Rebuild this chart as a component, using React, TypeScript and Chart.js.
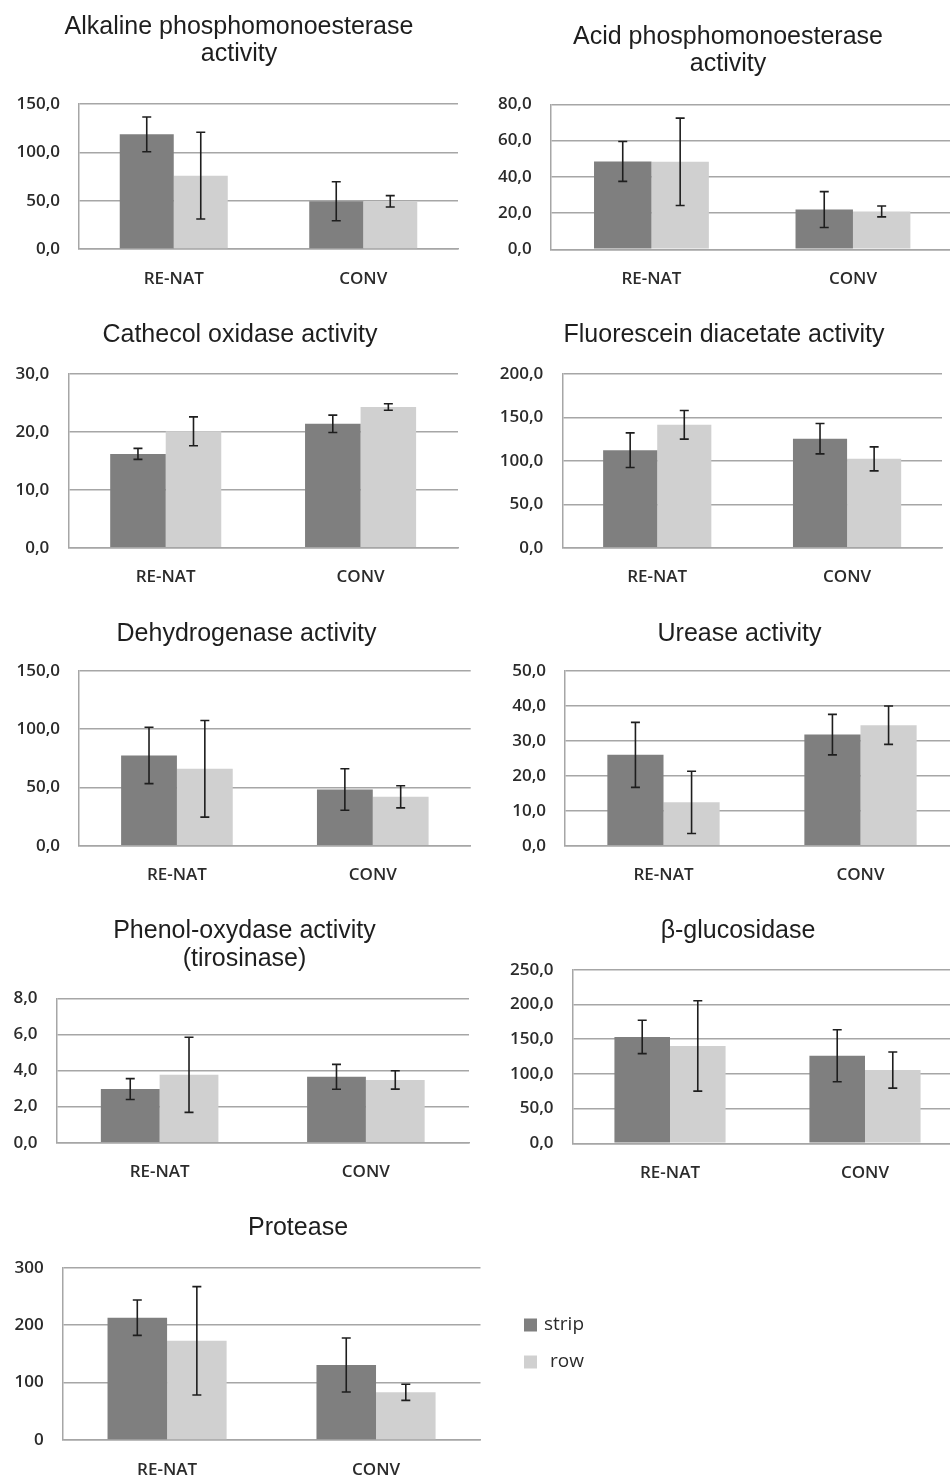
import React, { useEffect, useRef } from 'react';
import { Chart, registerables } from 'chart.js';

Chart.register(...registerables);

// Shared categories and series
const categories = ['RE-NAT', 'CONV'];
const seriesNames = ['strip', 'row'];
const seriesColors = ['#7f7f7f', '#d0d0d0'];

// Alkaline phosphomonoesterase
const alkalineTitle = ['Alkaline phosphomonoesterase', 'activity'];
const alkalineTicks = [0, 50, 100, 150];
const alkalineStrip = [118.6, 49.4];
const alkalineStripSd = [18.0, 20.2];
const alkalineRow = [75.9, 49.3];
const alkalineRowSd = [44.9, 5.9];

// Acid phosphomonoesterase
const acidTitle = ['Acid phosphomonoesterase', 'activity'];
const acidTicks = [0, 20, 40, 60, 80];
const acidStrip = [48.5, 21.9];
const acidStripSd = [11.0, 9.9];
const acidRow = [48.3, 20.9];
const acidRowSd = [24.1, 3.0];

// Cathecol oxidase
const cathecolTitle = ['Cathecol oxidase activity'];
const cathecolTicks = [0, 10, 20, 30];
const cathecolStrip = [16.2, 21.4];
const cathecolStripSd = [0.95, 1.5];
const cathecolRow = [20.1, 24.3];
const cathecolRowSd = [2.5, 0.55];

// Fluorescein diacetate
const fdaTitle = ['Fluorescein diacetate activity'];
const fdaTicks = [0, 50, 100, 150, 200];
const fdaStrip = [112.3, 125.5];
const fdaStripSd = [19.9, 17.5];
const fdaRow = [141.5, 102.3];
const fdaRowSd = [16.5, 13.8];

// Dehydrogenase
const dehydrogenaseTitle = ['Dehydrogenase activity'];
const dehydrogenaseTicks = [0, 50, 100, 150];
const dehydrogenaseStrip = [77.5, 48.3];
const dehydrogenaseStripSd = [24.2, 17.8];
const dehydrogenaseRow = [66.0, 42.0];
const dehydrogenaseRowSd = [41.5, 9.5];

// Urease
const ureaseTitle = ['Urease activity'];
const ureaseTicks = [0, 10, 20, 30, 40, 50];
const ureaseStrip = [26.0, 31.8];
const ureaseStripSd = [9.3, 5.8];
const ureaseRow = [12.4, 34.5];
const ureaseRowSd = [8.9, 5.5];

// Phenol-oxydase (tirosinase)
const phenolTitle = ['Phenol-oxydase activity', '(tirosinase)'];
const phenolTicks = [0, 2, 4, 6, 8];
const phenolStrip = [2.97, 3.65];
const phenolStripSd = [0.58, 0.69];
const phenolRow = [3.76, 3.48];
const phenolRowSd = [2.08, 0.51];

// β-glucosidase
const glucosidaseTitle = ['β-glucosidase'];
const glucosidaseTicks = [0, 50, 100, 150, 200, 250];
const glucosidaseStrip = [153.2, 126.1];
const glucosidaseStripSd = [24.0, 37.4];
const glucosidaseRow = [140.2, 105.5];
const glucosidaseRowSd = [65.0, 26.0];

// Protease
const proteaseTitle = ['Protease'];
const proteaseTicks = [0, 100, 200, 300];
const proteaseStrip = [213.0, 130.7];
const proteaseStripSd = [30.8, 47.0];
const proteaseRow = [172.7, 83.0];
const proteaseRowSd = [94.3, 14.0];

// Styling
const TITLE_FONT = "'Liberation Sans', Arial, sans-serif";
const TITLE_SIZE = 25;
const TITLE_LINE = 1.1;
const LABEL_FONT = "'Open Sans', sans-serif";
const LABEL_SIZE = 17;
const GRID_COLOR = '#a6a6a6';
const TEXT_COLOR = '#2b2b2b';
const LEGEND_GAP = 25.5;
const LEGEND_WIDTH = 78;

type Frame = {
  x: number;
  y: number;
  w: number;
  h: number;
  plot: [number, number, number, number];
  titleY: number;
};

type PanelProps = {
  title: string[];
  ticks: number[];
  decimals: number;
  strip: number[];
  stripSd: number[];
  row: number[];
  rowSd: number[];
  frame: Frame;
  legend?: boolean;
};

function makeErrorBars(errors: number[][]) {
  return {
    id: 'errorBars',
    afterDatasetsDraw(chart: any) {
      const { ctx } = chart;
      const yScale = chart.scales.y;
      ctx.save();
      ctx.strokeStyle = '#1e1e1e';
      ctx.lineWidth = 1.6;
      chart.data.datasets.forEach((ds: any, i: number) => {
        const meta = chart.getDatasetMeta(i);
        meta.data.forEach((bar: any, j: number) => {
          const v = ds.data[j];
          const e = errors[i][j];
          const x = bar.x;
          const yHi = yScale.getPixelForValue(v + e);
          const yLo = yScale.getPixelForValue(v - e);
          const cap = 4.5;
          ctx.beginPath();
          ctx.moveTo(x, yHi);
          ctx.lineTo(x, yLo);
          ctx.moveTo(x - cap, yHi);
          ctx.lineTo(x + cap, yHi);
          ctx.moveTo(x - cap, yLo);
          ctx.lineTo(x + cap, yLo);
          ctx.stroke();
        });
      });
      ctx.restore();
    },
  };
}

// invisible right-hand axis used only to reserve horizontal space
function spacerAxis(width: number, weight: number) {
  return {
    type: 'linear',
    position: 'right',
    display: true,
    weight,
    grid: { display: false, drawTicks: false },
    border: { display: false },
    ticks: { display: false },
    afterFit: (s: any) => {
      s.width = width;
    },
  };
}

function Panel({ title, ticks, decimals, strip, stripSd, row, rowSd, frame, legend }: PanelProps) {
  const ref = useRef<HTMLCanvasElement>(null);

  useEffect(() => {
    const canvas = ref.current;
    if (!canvas) return;
    const [pl, pt, pr, pb] = frame.plot;
    const lh = TITLE_SIZE * TITLE_LINE;
    const titleTop = frame.titleY - frame.y - lh / 2;
    const titleBottom = pt - frame.y - titleTop - title.length * lh;
    const rightSpace = frame.x + frame.w - pr;

    const scales: any = {
      x: {
        grid: { display: false, drawTicks: false },
        border: { display: true, color: GRID_COLOR, width: 1.5 },
        ticks: {
          padding: 19.5,
          color: TEXT_COLOR,
          font: { family: LABEL_FONT, size: LABEL_SIZE, weight: '600' },
        },
        afterFit: (s: any) => {
          s.height = frame.y + frame.h - pb;
        },
      },
      y: {
        min: ticks[0],
        max: ticks[ticks.length - 1],
        afterBuildTicks: (s: any) => {
          s.ticks = ticks.map((value) => ({ value }));
        },
        grid: { color: GRID_COLOR, lineWidth: 1.5, drawTicks: false },
        border: { display: true, color: GRID_COLOR, width: 1.5 },
        ticks: {
          padding: 19,
          color: TEXT_COLOR,
          font: { family: LABEL_FONT, size: LABEL_SIZE, weight: '600' },
          callback: (v: any) => Number(v).toFixed(decimals).replace('.', ','),
        },
        afterFit: (s: any) => {
          s.width = pl - frame.x;
        },
      },
    };
    if (legend) {
      scales.gapInner = spacerAxis(LEGEND_GAP, 0);
      scales.gapOuter = spacerAxis(rightSpace - LEGEND_GAP - LEGEND_WIDTH, 2000);
    } else {
      scales.gapInner = spacerAxis(rightSpace, 0);
    }

    const chart = new Chart(canvas, {
      type: 'bar',
      data: {
        labels: categories,
        datasets: [
          {
            label: seriesNames[0],
            data: strip,
            backgroundColor: seriesColors[0],
            borderWidth: 0,
            categoryPercentage: 0.57,
            barPercentage: 1,
          },
          {
            label: seriesNames[1],
            data: row,
            backgroundColor: seriesColors[1],
            borderWidth: 0,
            categoryPercentage: 0.57,
            barPercentage: 1,
          },
        ],
      },
      options: {
        responsive: false,
        animation: false,
        devicePixelRatio: 1,
        layout: { padding: 0 },
        scales,
        plugins: {
          tooltip: { enabled: false },
          title: {
            display: true,
            text: title,
            color: '#1e1e1e',
            font: { family: TITLE_FONT, size: TITLE_SIZE, weight: 'normal', lineHeight: TITLE_LINE },
            padding: { top: titleTop, bottom: titleBottom },
          },
          legend: legend
            ? {
                display: true,
                position: 'right',
                maxWidth: LEGEND_WIDTH,
                labels: {
                  boxWidth: 13,
                  boxHeight: 13,
                  padding: 18,
                  textAlign: 'right',
                  color: TEXT_COLOR,
                  font: { family: LABEL_FONT, size: 19, weight: '500' },
                },
              }
            : { display: false },
        },
      } as any,
      plugins: [makeErrorBars([stripSd, rowSd])],
    });
    return () => chart.destroy();
  }, []);

  return (
    <canvas
      ref={ref}
      width={Math.round(frame.w)}
      height={Math.round(frame.h)}
      style={{ position: 'absolute', left: frame.x, top: frame.y, display: 'block' }}
    />
  );
}

export default function App() {
  return (
    <div
      style={{
        position: 'absolute',
        left: 0,
        top: 0,
        width: 950,
        height: 1477,
        overflow: 'hidden',
        background: '#ffffff',
      }}
    >
      <Panel
        title={alkalineTitle}
        ticks={alkalineTicks}
        decimals={1}
        strip={alkalineStrip}
        stripSd={alkalineStripSd}
        row={alkalineRow}
        rowSd={alkalineRowSd}
        frame={{ x: 0, y: 0, w: 478, h: 300, plot: [79, 104, 458, 249], titleY: 27 }}
      />
      <Panel
        title={acidTitle}
        ticks={acidTicks}
        decimals={1}
        strip={acidStrip}
        stripSd={acidStripSd}
        row={acidRow}
        rowSd={acidRowSd}
        frame={{ x: 482, y: 0, w: 492, h: 300, plot: [550.7, 104.3, 953.7, 249.3], titleY: 37 }}
      />
      <Panel
        title={cathecolTitle}
        ticks={cathecolTicks}
        decimals={1}
        strip={cathecolStrip}
        stripSd={cathecolStripSd}
        row={cathecolRow}
        rowSd={cathecolRowSd}
        frame={{ x: 0, y: 300, w: 480, h: 300, plot: [68.3, 374, 458, 547.7], titleY: 335.3 }}
      />
      <Panel
        title={fdaTitle}
        ticks={fdaTicks}
        decimals={1}
        strip={fdaStrip}
        stripSd={fdaStripSd}
        row={fdaRow}
        rowSd={fdaRowSd}
        frame={{ x: 482, y: 300, w: 484, h: 300, plot: [562.3, 374, 942, 547.7], titleY: 335.3 }}
      />
      <Panel
        title={dehydrogenaseTitle}
        ticks={dehydrogenaseTicks}
        decimals={1}
        strip={dehydrogenaseStrip}
        stripSd={dehydrogenaseStripSd}
        row={dehydrogenaseRow}
        rowSd={dehydrogenaseRowSd}
        frame={{ x: 0, y: 600, w: 493, h: 300, plot: [79, 671, 470.7, 845.7], titleY: 633.7 }}
      />
      <Panel
        title={ureaseTitle}
        ticks={ureaseTicks}
        decimals={1}
        strip={ureaseStrip}
        stripSd={ureaseStripSd}
        row={ureaseRow}
        rowSd={ureaseRowSd}
        frame={{ x: 485, y: 600, w: 509, h: 300, plot: [565, 671, 959, 845.7], titleY: 633.7 }}
      />
      <Panel
        title={phenolTitle}
        ticks={phenolTicks}
        decimals={1}
        strip={phenolStrip}
        stripSd={phenolStripSd}
        row={phenolRow}
        rowSd={phenolRowSd}
        frame={{ x: 0, y: 900, w: 489, h: 290, plot: [56.5, 998.3, 469, 1142.7], titleY: 931.3 }}
      />
      <Panel
        title={glucosidaseTitle}
        ticks={glucosidaseTicks}
        decimals={1}
        strip={glucosidaseStrip}
        stripSd={glucosidaseStripSd}
        row={glucosidaseRow}
        rowSd={glucosidaseRowSd}
        frame={{ x: 490, y: 900, w: 496, h: 290, plot: [572.5, 969.7, 962.5, 1143.3], titleY: 931.3 }}
      />
      <Panel
        title={proteaseTitle}
        ticks={proteaseTicks}
        decimals={0}
        strip={proteaseStrip}
        stripSd={proteaseStripSd}
        row={proteaseRow}
        rowSd={proteaseRowSd}
        frame={{ x: 0, y: 1190, w: 596, h: 307, plot: [62.6, 1267.7, 480.5, 1440], titleY: 1228 }}
        legend
      />
    </div>
  );
}
